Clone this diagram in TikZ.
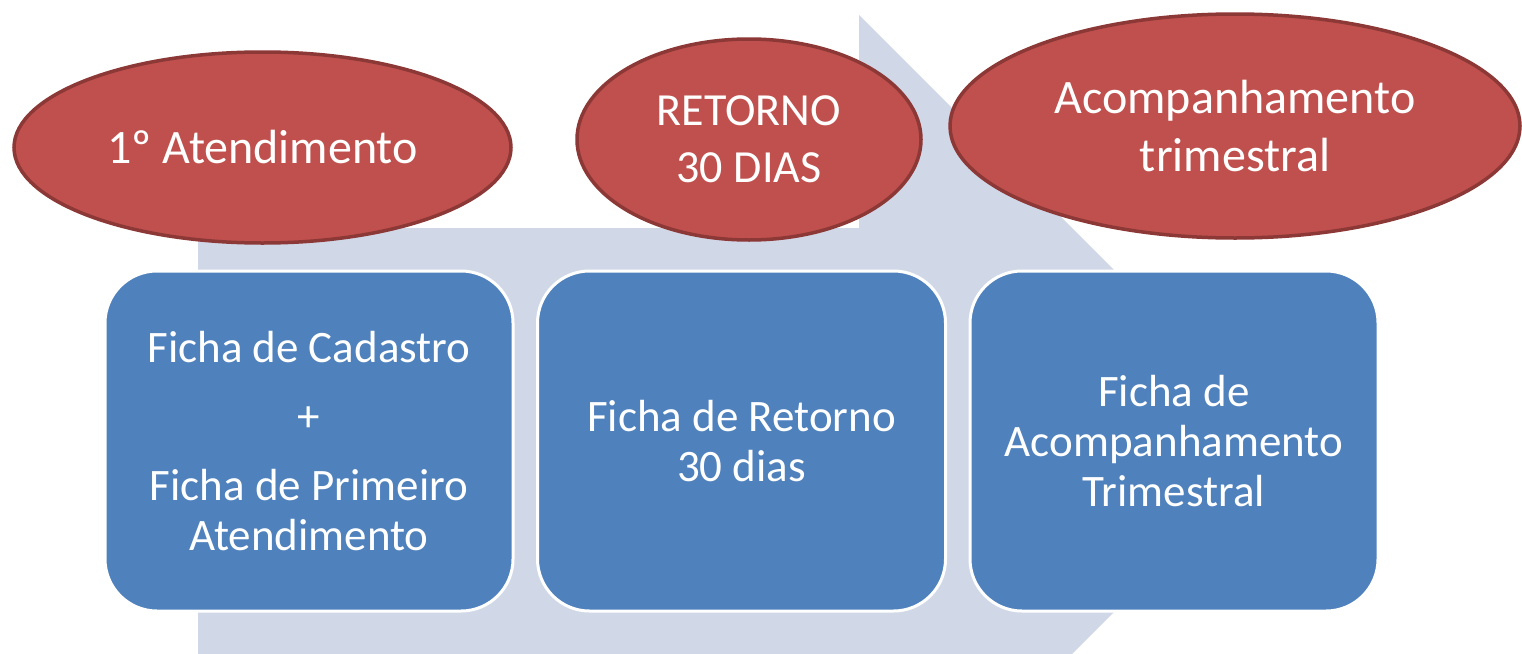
\documentclass[tikz,border=0pt]{standalone}
\usepackage{fontspec}
\setmainfont{Carlito}
\usetikzlibrary{shapes.geometric,positioning}
\definecolor{setacinza}{HTML}{D0D8E8}
\definecolor{vermelho}{HTML}{C0504D}
\definecolor{vermescuro}{HTML}{8C3836}
\definecolor{azulficha}{HTML}{4F81BD}
\begin{document}
\begin{tikzpicture}[x=1pt,y=-1pt,
  fase/.style={ellipse, draw=vermescuro, line width=3.5pt, fill=vermelho,
    text=white, inner sep=0pt, align=center, font=\fontsize{48}{58}\selectfont},
  ficha/.style={rectangle, rounded corners=52pt, draw=white, line width=3pt,
    fill=azulficha, text=white, inner sep=0pt, align=center,
    minimum width=408pt, minimum height=340pt, font=\fontsize{45}{50}\selectfont}]
  \def\cy{441}
  \def\bgap{432.5}

  % Fixed bounding box
  \useasboundingbox (0,0) rectangle (1522,653);

  % Big arrow behind everything
  \begin{scope}
    \clip (0,0) rectangle (1522,653);
    \fill[setacinza] (198,228) -- (859,228) -- (859,15) -- (1285,\cy)
      -- (859,867) -- (859,654) -- (198,654) -- cycle;
  \end{scope}

  % Stages (ellipses)
  \node[fase, minimum width=497pt, minimum height=191pt] (ate) at (262.5,147.5) {1º Atendimento};
  \node[fase, minimum width=344pt, minimum height=201pt,
    font=\fontsize{46}{57}\selectfont] (ret) at (749,139.5) {RETORNO\\30 DIAS};
  \node[fase, minimum width=570pt, minimum height=224pt] (aco) at (1235,126) {Acompanhamento\\trimestral};

  % Forms (rounded boxes)
  \node[ficha] (fcad) at (309,\cy) {Ficha de Cadastro\\[19pt]+\\[19pt]Ficha de Primeiro\\Atendimento};
  \node[ficha] (fret) at ({309+\bgap},\cy) {Ficha de Retorno\\30 dias};
  \node[ficha] (facp) at ({309+2*\bgap},\cy) {Ficha de\\Acompanhamento\\Trimestral};

\end{tikzpicture}
\end{document}
